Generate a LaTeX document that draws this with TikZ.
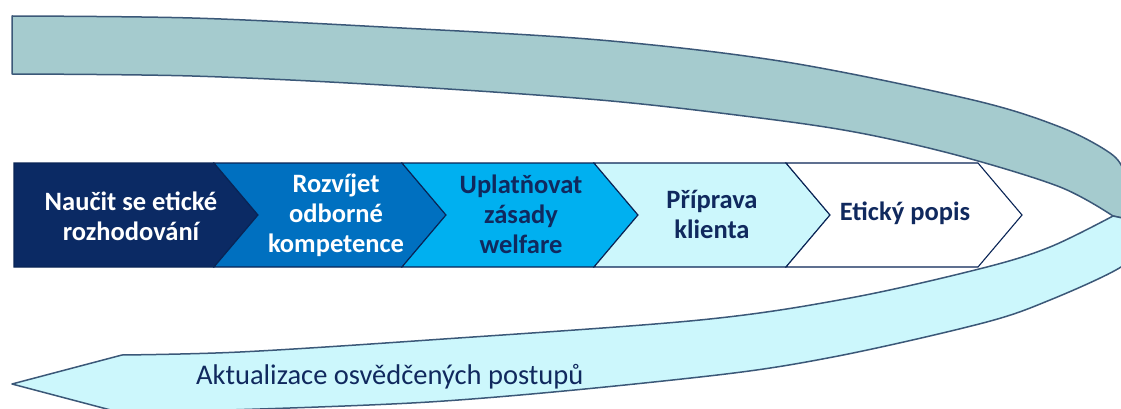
\documentclass[tikz,border=0pt]{standalone}
\usepackage{fontspec}
\setmainfont{Carlito}
\definecolor{navy}{HTML}{0B2A64}
\definecolor{midblue}{HTML}{0070C0}
\definecolor{skyblue}{HTML}{00B0F0}
\definecolor{paleblue}{HTML}{CCF7FC}
\definecolor{tealfill}{HTML}{A5CBCE}
\definecolor{bandline}{HTML}{3B5878}
\definecolor{txtnavy}{HTML}{10295E}
\tikzset{
  band/.style={draw=bandline, line width=1.5pt, line join=round},
  chev/.style={draw=navy!85!black, line width=1.1pt, line join=miter},
  chevtext/.style={font=\bfseries\fontsize{26.5}{30}\selectfont, align=center, inner sep=0pt},
}
\begin{document}
\begin{tikzpicture}[x=1pt,y=-1pt]
\useasboundingbox (0,0) rectangle (1121,409);
\clip (0,0) rectangle (1121,409);
% teal upper band
\path[band, fill=tealfill]
  plot[smooth, tension=0.55] coordinates {(12,16) (192,18) (383,27) (600,40) (786,62) (973,100) (1060,127) (1110,153) (1125,172) (1136,195) (1141,222)}
  -- plot[smooth, tension=0.55] coordinates {(1113,216) (1060,187) (960,156) (860,133) (760,118) (600,100) (383,85) (192,76) (12,74)}
  -- cycle;
% light blue lower arrow band
\path[band, fill=paleblue]
  plot[smooth, tension=0.55] coordinates {(1113,216) (1050,247) (983,268) (850,298) (700,320) (429,340) (240,352) (122,355)}
  -- (12,384) -- (122,413)
  -- plot[smooth, tension=0.55] coordinates {(122,413) (429,402) (700,377) (833,357) (983,323) (1050,300) (1121,267) (1136,245) (1141,222)}
  -- cycle;
% chevrons
\path[chev, fill=navy] (14,163) -- (214,163) -- (258,215) -- (214,267) -- (14,267) -- cycle;
\path[chev, fill=midblue] (214,163) -- (402,163) -- (446,215) -- (402,267) -- (214,267) -- (258,215) -- cycle;
\path[chev, fill=skyblue] (402,163) -- (594,163) -- (638,215) -- (594,267) -- (402,267) -- (446,215) -- cycle;
\path[chev, fill=paleblue] (594,163) -- (786,163) -- (830,215) -- (786,267) -- (594,267) -- (638,215) -- cycle;
\path[chev, fill=white] (786,163) -- (978,163) -- (1022,215) -- (978,267) -- (786,267) -- (830,215) -- cycle;
% texts
\node[chevtext, text=white] (t1) at (131,216) {Naučit se etické\\rozhodování};
\node[chevtext, text=white] (t2) at (336,215) {Rozvíjet\\odborné\\kompetence};
\node[chevtext, text=txtnavy] (t3) at (521,214) {Uplatňovat\\zásady\\welfare};
\node[chevtext, text=txtnavy] (t4) at (712,214) {Příprava\\klienta};
\node[chevtext, text=txtnavy] (t5) at (905,213) {Etický popis};
\node[inner sep=0pt, anchor=base west, text=txtnavy, font=\fontsize{28.5}{32}\selectfont] (t6) at (196,384) {Aktualizace osvědčených postupů};
\end{tikzpicture}
\end{document}
